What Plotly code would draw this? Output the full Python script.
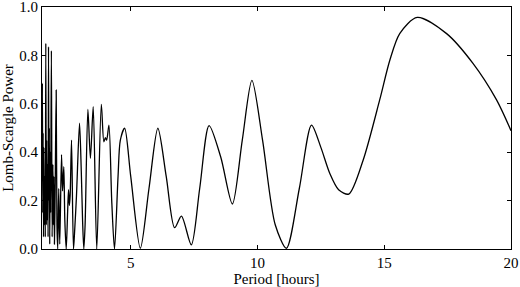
import plotly.graph_objects as go

# Period [hours] and Lomb-Scargle power
period = [1.50, 1.515, 1.53, 1.545, 1.56, 1.575, 1.59, 1.61, 1.63, 1.65, 1.67, 1.685, 1.70, 1.72, 1.74,
          1.757, 1.775, 1.79, 1.805, 1.82, 1.84, 1.87, 1.90, 1.93, 1.95, 1.97, 1.99, 2.02, 2.06, 2.09,
          2.12, 2.16, 2.20, 2.27, 2.31, 2.36, 2.40, 2.455, 2.51, 2.546, 2.58, 2.61, 2.665, 2.74,
          2.78, 2.86, 2.98, 3.05, 3.10, 3.15, 3.20, 3.31, 3.41, 3.52, 3.66, 3.84, 3.94, 4.00,
          4.05, 4.14, 4.25, 4.36, 4.50, 4.59, 4.76, 5.00, 5.38, 5.72, 6.07, 6.40, 6.73, 7.00,
          7.39, 7.72, 8.09, 8.55, 9.01, 9.40, 9.78, 10.20, 10.70, 11.14, 11.65, 12.13, 12.50,
          12.85, 13.20, 13.60, 14.17, 14.82, 15.22, 15.61, 16.30, 17.46, 18.50, 19.43, 20.00]
power = [0.28, 0.685, 0.15, 0.48, 0.05, 0.42, 0.10, 0.30, 0.05, 0.85, 0.10, 0.45, 0.12, 0.35, 0.05,
         0.836, 0.20, 0.50, 0.02, 0.40, 0.15, 0.82, 0.05, 0.35, 0.10, 0.30, 0.02, 0.25, 0.657, 0.10,
         0.00, 0.25, 0.02, 0.39, 0.24, 0.34, 0.12, 0.00, 0.15, 0.245, 0.18, 0.22, 0.45, 0.00,
         0.06, 0.22, 0.52, 0.32, 0.12, 0.00, 0.10, 0.577, 0.375, 0.588, 0.00, 0.598, 0.443, 0.46,
         0.45, 0.512, 0.20, 0.00, 0.30, 0.45, 0.499, 0.30, 0.003, 0.25, 0.499, 0.30, 0.088, 0.136,
         0.017, 0.25, 0.51, 0.38, 0.186, 0.45, 0.697, 0.45, 0.10, 0.003, 0.25, 0.512, 0.42,
         0.313, 0.245, 0.227, 0.368, 0.616, 0.78, 0.89, 0.957, 0.89, 0.767, 0.616, 0.489]

x_ticks = [5, 10, 15, 20]
y_ticks = [0.0, 0.2, 0.4, 0.6, 0.8, 1.0]

fig = go.Figure()
fig.add_trace(go.Scatter(x=period, y=power, mode="lines",
                         line=dict(color="black", width=1.3, shape="spline", smoothing=0.8),
                         showlegend=False, hoverinfo="skip"))

font = dict(family="Liberation Serif, Times New Roman, serif", size=15, color="black")
fig.update_layout(
    width=520, height=287,
    margin=dict(l=42, r=9, t=7, b=38, autoexpand=False),
    paper_bgcolor="white", plot_bgcolor="white",
    font=font,
)
fig.update_xaxes(range=[1.5, 20], tickvals=x_ticks, ticktext=[str(v) for v in x_ticks],
                 ticks="inside", ticklen=4, tickcolor="black", showline=True, linecolor="black",
                 linewidth=1, mirror="ticks", showgrid=False, zeroline=False, automargin=False,
                 ticklabeloverflow="allow",
                 title=dict(text="Period [hours]", font=font, standoff=2))
fig.update_yaxes(range=[0, 1], tickvals=y_ticks, ticktext=[f"{v:.1f}" for v in y_ticks],
                 ticks="inside", ticklen=4, tickcolor="black", showline=True, linecolor="black",
                 linewidth=1, mirror="ticks", showgrid=False, zeroline=False, automargin=False,
                 ticklabeloverflow="allow",
                 title=dict(text="Lomb-Scargle Power", font=font, standoff=7))

fig.write_html("out.html")
